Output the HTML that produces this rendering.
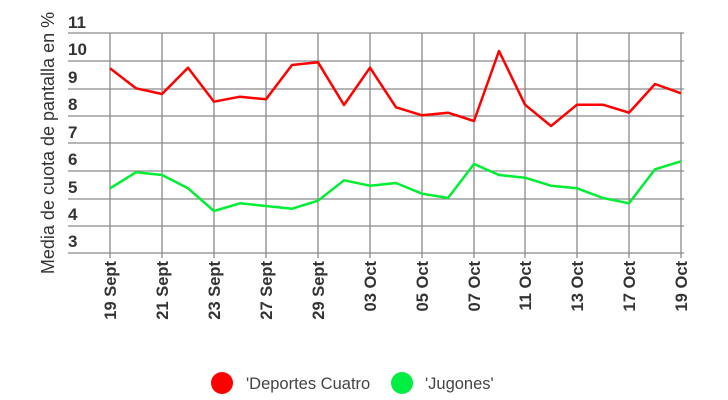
<!DOCTYPE html>
<html><head><meta charset="utf-8"><style>
html,body{margin:0;padding:0;background:#fff;}
svg{display:block;font-family:"Liberation Sans",sans-serif;}
</style></head><body>
<svg width="728" height="400" viewBox="0 0 728 400" xmlns="http://www.w3.org/2000/svg">
<g stroke="#8a8a8a" stroke-width="1.3">
<line x1="68" y1="33" x2="684" y2="33"/><line x1="68" y1="61" x2="684" y2="61"/>
<line x1="68" y1="89" x2="684" y2="89"/><line x1="68" y1="116" x2="684" y2="116"/>
<line x1="68" y1="143" x2="684" y2="143"/><line x1="68" y1="171" x2="684" y2="171"/>
<line x1="68" y1="199" x2="684" y2="199"/><line x1="68" y1="226" x2="684" y2="226"/>
<line x1="68" y1="253" x2="684" y2="253"/>
<line x1="110" y1="33" x2="110" y2="258"/><line x1="162" y1="33" x2="162" y2="258"/>
<line x1="214" y1="33" x2="214" y2="258"/><line x1="266" y1="33" x2="266" y2="258"/>
<line x1="318" y1="33" x2="318" y2="258"/><line x1="370" y1="33" x2="370" y2="258"/>
<line x1="422" y1="33" x2="422" y2="258"/><line x1="474" y1="33" x2="474" y2="258"/>
<line x1="525" y1="33" x2="525" y2="258"/><line x1="577" y1="33" x2="577" y2="258"/>
<line x1="629" y1="33" x2="629" y2="258"/><line x1="681" y1="33" x2="681" y2="258"/>
</g>
<g font-size="17" font-weight="bold" fill="#333">
<text x="68" y="28">11</text><text x="68" y="55">10</text><text x="68" y="83">9</text>
<text x="68" y="110">8</text><text x="68" y="138">7</text><text x="68" y="165">6</text>
<text x="68" y="193">5</text><text x="68" y="220">4</text><text x="68" y="247">3</text>
</g>
<text transform="translate(54,143) rotate(-90)" text-anchor="middle" font-size="18" fill="#333">Media de cuota de pantalla en %</text>
<g font-size="16.5" font-weight="bold" fill="#333" text-anchor="end">
<text transform="translate(116,261) rotate(-90)">19 Sept</text>
<text transform="translate(168,261) rotate(-90)">21 Sept</text>
<text transform="translate(220,261) rotate(-90)">23 Sept</text>
<text transform="translate(272,261) rotate(-90)">27 Sept</text>
<text transform="translate(324,261) rotate(-90)">29 Sept</text>
<text transform="translate(376,261) rotate(-90)">03 Oct</text>
<text transform="translate(428,261) rotate(-90)">05 Oct</text>
<text transform="translate(480,261) rotate(-90)">07 Oct</text>
<text transform="translate(531,261) rotate(-90)">11 Oct</text>
<text transform="translate(583,261) rotate(-90)">13 Oct</text>
<text transform="translate(635,261) rotate(-90)">17 Oct</text>
<text transform="translate(687,261) rotate(-90)">19 Oct</text>
</g>
<polyline fill="none" stroke="#ff0000" stroke-width="2.5" stroke-linejoin="round" points="110,68.3 136,88.3 162,94 188,67.7 214,101.7 240,96.7 266,99.3 292,65 318,62.3 344,105 370,67.7 396,107.3 422,115.3 448,112.7 474,121 499,51 525,104.7 551,126 577,104.7 603,104.7 629,112.7 655,84 681,93.3"/>
<polyline fill="none" stroke="#00ee33" stroke-width="2.5" stroke-linejoin="round" points="110,188.3 136,172.3 162,175 188,188.3 214,211 240,203.3 266,206 292,208.7 318,200.7 344,180.3 370,185.7 396,183 422,193.7 448,198 474,164 499,175 525,177.7 551,185.7 577,188.3 603,198 629,203.3 655,169.3 681,161.3"/>
<circle cx="222" cy="383" r="11" fill="#ff0000"/>
<text x="246" y="389" font-size="16.5" fill="#444">'Deportes Cuatro</text>
<circle cx="402" cy="383" r="11" fill="#00ee44"/>
<text x="425" y="389" font-size="16.5" fill="#444">'Jugones'</text>
</svg>
</body></html>
